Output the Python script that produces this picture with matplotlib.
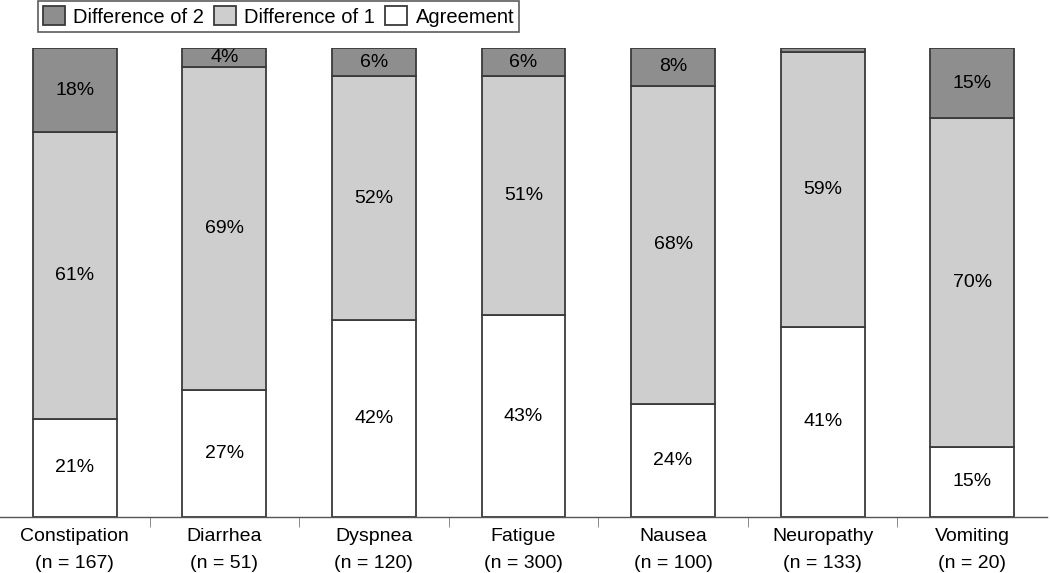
import matplotlib.pyplot as plt
import numpy as np

plt.rcParams['font.family'] = ['Liberation Sans', 'DejaVu Sans']

kategorie = ['Constipation', 'Diarrhea', 'Dyspnea', 'Fatigue', 'Nausea', 'Neuropathy', 'Vomiting']
liczebnosc = [167, 51, 120, 300, 100, 133, 20]
zgodnosc = [21, 27, 42, 43, 24, 40.6, 15]
roznica1 = [61, 69, 52, 51, 68, 58.6, 70]
roznica2 = [18, 4, 6, 6, 8, 0.8, 15]

kolory = {'Agreement': '#ffffff', 'Difference of 1': '#cecece', 'Difference of 2': '#8e8e8e'}
krawedz = '#3a3a3a'

fig = plt.figure(figsize=(10.5, 5.73), dpi=100)
ax = fig.add_axes([0.0, 1 - 517 / 573, 1047 / 1050, (517 - 48) / 573])

x = np.arange(len(kategorie))
szer = 0.56
dol = np.zeros(len(kategorie))
slupki = {}
for nazwa, wart in [('Agreement', zgodnosc), ('Difference of 1', roznica1), ('Difference of 2', roznica2)]:
    wart = np.array(wart, dtype=float)
    slupki[nazwa] = ax.bar(x, wart, szer, bottom=dol, color=kolory[nazwa],
                           edgecolor=krawedz, linewidth=1.3, label=nazwa)
    for i in range(len(x)):
        if wart[i] >= 2:
            ax.text(x[i], dol[i] + wart[i] / 2, '%d%%' % round(wart[i]),
                    ha='center', va='center', fontsize=14)
    dol += wart

ax.set_xlim(-0.5, len(kategorie) - 0.5)
ax.set_ylim(0, 100)
ax.set_yticks([])
for s in ['top', 'right', 'left']:
    ax.spines[s].set_visible(False)
ax.spines['bottom'].set_color('#555555')
ax.spines['bottom'].set_linewidth(1.0)

ax.set_xticks(x)
ax.set_xticklabels(['%s\n(n = %d)' % (k, n) for k, n in zip(kategorie, liczebnosc)],
                   fontsize=14, linespacing=1.75)
ax.tick_params(axis='x', which='major', length=0, pad=8)
ax.set_xticks(np.arange(0.5, len(kategorie) - 1, 1.0), minor=True)
ax.tick_params(axis='x', which='minor', length=7, color='#777777', direction='out')

uchwyty = [slupki['Difference of 2'], slupki['Difference of 1'], slupki['Agreement']]
leg = fig.legend(uchwyty, ['Difference of 2', 'Difference of 1', 'Agreement'],
                 loc='upper left', bbox_to_anchor=(38 / 1050, 1 - 1 / 573), ncol=3,
                 fontsize=14.5, frameon=True, fancybox=False, borderpad=0.25,
                 handlelength=1.1, handleheight=1.1, handletextpad=0.4,
                 columnspacing=0.5, borderaxespad=0)
leg.get_frame().set_edgecolor('#333333')
leg.get_frame().set_linewidth(1.2)

plt.savefig('out.png', dpi=100)
